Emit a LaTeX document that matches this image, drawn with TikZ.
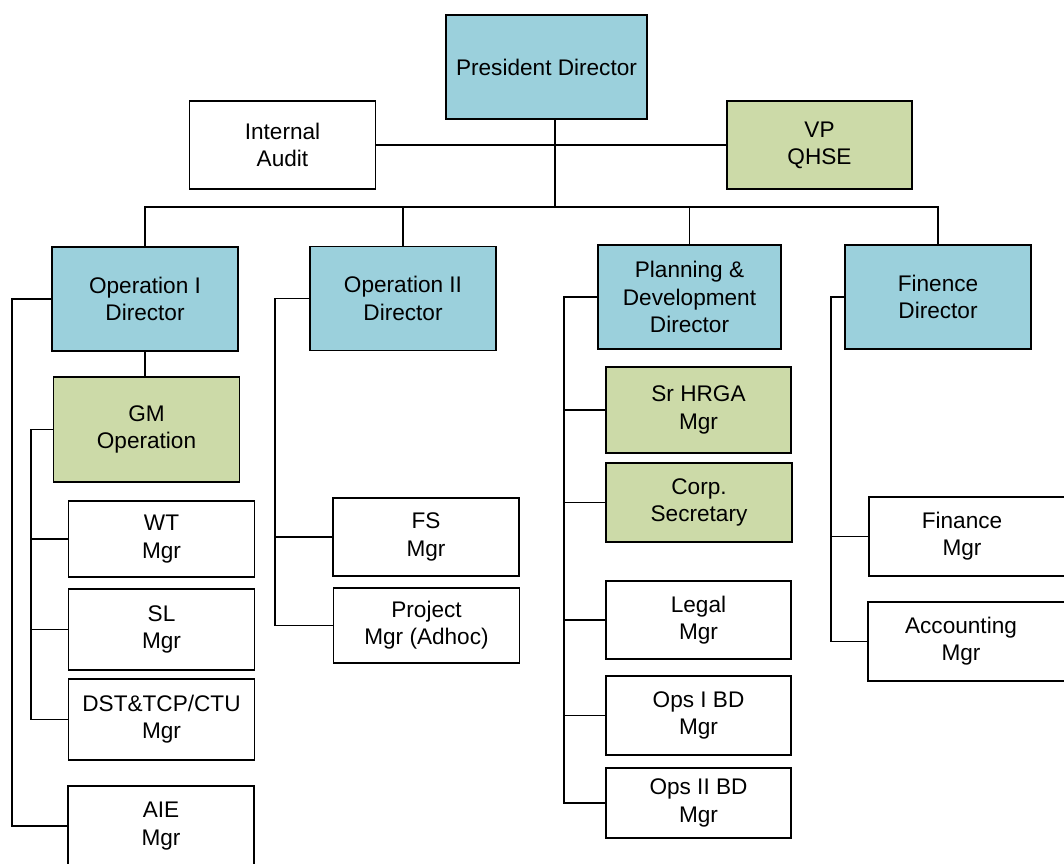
\documentclass[tikz,border=0pt]{standalone}
\usepackage{fontspec}
\setmainfont{Liberation Sans}
\usepackage{tikz}
\definecolor{dirblue}{RGB}{155,208,220}
\definecolor{mgrgreen}{RGB}{204,218,168}
\tikzset{
  unit/.style    = {draw, line width=0.9pt, inner sep=0pt, align=center,
                    minimum width=93pt},
  dirbox/.style  = {unit, fill=dirblue},
  gmbox/.style   = {unit, fill=mgrgreen},
  mgrbox/.style  = {unit, fill=white},
  link/.style    = {line width=0.9pt},
}
\newcommand{\orgfont}{\fontsize{11.3}{13.6}\selectfont}

\begin{document}
\begin{tikzpicture}[x=0.5pt, y=-0.5pt, every node/.style={font=\orgfont}]
\useasboundingbox[fill=white] (0,0) rectangle (1064,863);
% top level
\node[dirbox, minimum width=100.5pt, minimum height=52pt] (pd) at (546.5,67) {President Director};
\node[mgrbox, minimum height=44pt] (ia) at (282.5,145) {Internal\\Audit};
\node[gmbox, minimum width=92.5pt, minimum height=44pt] (vp) at (819.5,145) {VP\\QHSE};
% directors
\node[dirbox, minimum height=52pt] (op1) at (145,299)   {Operation I\\Director};
\node[dirbox, minimum height=52pt] (op2) at (403,298.5) {Operation II\\Director};
\node[dirbox, minimum width=91.5pt, minimum height=52pt] (pln) at (689.5,297) {Planning \&\\Development\\Director};
\node[dirbox, minimum height=52pt] (fin) at (938,297)    {Finence\\Director};
% operation I
\node[gmbox, minimum height=52.5pt] (gm) at (146.5,429.5) {GM\\Operation};
\node[mgrbox, minimum height=38pt]   (wt)  at (161.5,539)   {WT\\Mgr};
\node[mgrbox, minimum height=40.5pt] (sl)  at (161.5,629.5) {SL\\Mgr};
\node[mgrbox, minimum height=40.5pt] (dst) at (161.5,719.5) {DST\&TCP/CTU\\Mgr};
\node[mgrbox, minimum height=40pt]   (aie) at (161,826)     {AIE\\Mgr};
% operation II
\node[mgrbox, minimum height=39pt]   (fs)  at (426,537)     {FS\\Mgr};
\node[mgrbox, minimum height=37.5pt] (prj) at (426.5,625.5) {Project\\Mgr (Adhoc)};
% planning & development
\node[gmbox, minimum width=92.5pt, minimum height=43pt]    (hrga) at (698.5,410)  {Sr HRGA\\Mgr};
\node[gmbox, minimum width=93pt, minimum height=39.5pt]    (sec)  at (699,502.5)  {Corp.\\Secretary};
\node[mgrbox, minimum width=92.5pt, minimum height=39pt]   (lgl)  at (698.5,620)  {Legal\\Mgr};
\node[mgrbox, minimum width=92.5pt, minimum height=39.5pt] (bd1)  at (698.5,715.5) {Ops I BD\\Mgr};
\node[mgrbox, minimum width=92.5pt, minimum height=35pt]   (bd2)  at (698.5,803)  {Ops II BD\\Mgr};
% finance
\node[mgrbox, minimum width=100pt, minimum height=39.5pt] (fmg) at (969,536.5) {\hspace*{-7pt}Finance\\\hspace*{-7pt}Mgr};
\node[mgrbox, minimum width=100pt, minimum height=39.5pt] (acc) at (968,641.5) {\hspace*{-7pt}Accounting\\\hspace*{-7pt}Mgr};

% trunk and bus
\coordinate (bus) at (555,207);
\draw[link] (pd.south -| bus) -- (bus);
\draw[link] (ia) -- (vp);
\draw[link] (op1.north) |- (bus) -| (fin.north);
\draw[link] (op2.north) -- (op2.north |- bus);
\draw[link] (pln.north) -- (pln.north |- bus);
\draw[link] (op1.south) -- (op1.south |- gm.north);
% side spines
\coordinate (sp1) at (12,0);
\coordinate (sp2) at (31,0);
\coordinate (sp3) at (275,0);
\coordinate (sp4) at (564,0);
\coordinate (sp5) at (831,0);
\draw[link] (op1.west) -| (sp1 |- aie.west) -- (aie.west);
\draw[link] (gm.west) -| (sp2 |- dst.west) -- (dst.west);
\foreach \n in {wt, sl} \draw[link] (\n.west) -- (\n.west -| sp2);
\draw[link] (op2.west) -| (sp3 |- prj.west) -- (prj.west);
\draw[link] (fs.west) -- (fs.west -| sp3);
\draw[link] (pln.west) -| (sp4 |- bd2.west) -- (bd2.west);
\foreach \n in {hrga, sec, lgl, bd1} \draw[link] (\n.west) -- (\n.west -| sp4);
\draw[link] (fin.west) -| (sp5 |- acc.west) -- (acc.west);
\draw[link] (fmg.west) -- (fmg.west -| sp5);
\end{tikzpicture}
\end{document}
